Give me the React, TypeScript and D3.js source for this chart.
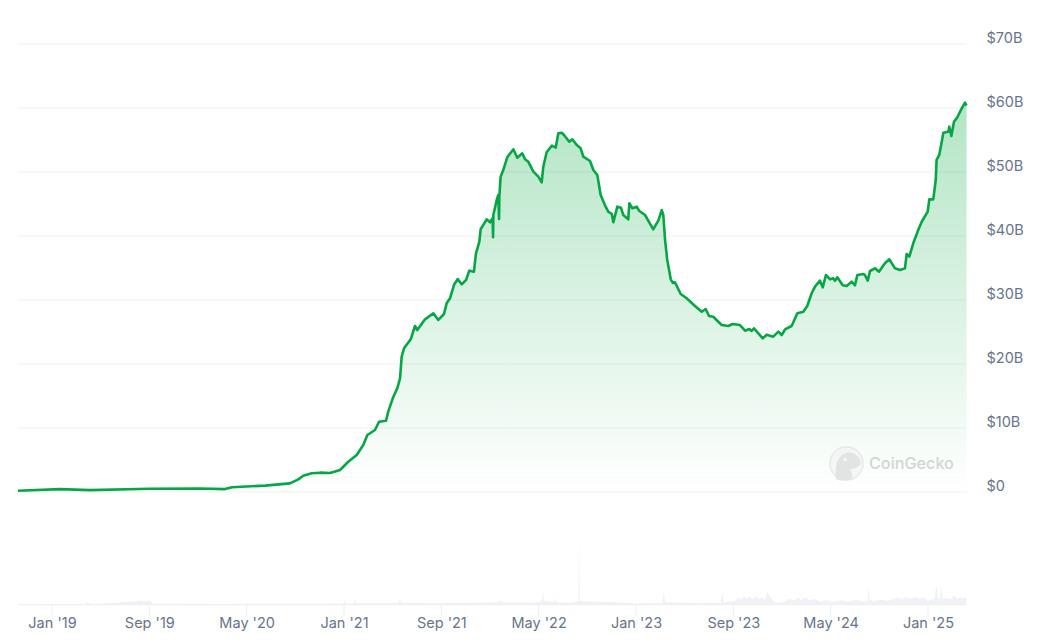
import React from "react";
import * as d3 from "d3";

// Market cap: offset in years since Jan 2019, value in $B
const capYears = [
  -0.233, 0.055, 0.26, 0.671, 1.014, 1.185, 1.233, 1.459, 1.63, 1.687, 1.721, 1.779, 1.836, 1.904, 1.973,
  2.029, 2.087, 2.132, 2.16, 2.212, 2.24, 2.288, 2.303, 2.334, 2.365, 2.384, 2.395, 2.411, 2.457, 2.486,
  2.502, 2.555, 2.612, 2.646, 2.685, 2.703, 2.726, 2.753, 2.779, 2.806, 2.836, 2.858, 2.89, 2.904, 2.927,
  2.936, 2.977, 3.0, 3.018, 3.021, 3.023, 3.046, 3.057, 3.062, 3.064, 3.073, 3.091, 3.118, 3.16, 3.187,
  3.221, 3.24, 3.262, 3.297, 3.331, 3.354, 3.365, 3.388, 3.423, 3.45, 3.468, 3.491, 3.507, 3.543, 3.564,
  3.594, 3.621, 3.639, 3.685, 3.708, 3.735, 3.758, 3.792, 3.81, 3.834, 3.845, 3.872, 3.897, 3.913, 3.947,
  3.954, 3.975, 4.005, 4.021, 4.062, 4.118, 4.153, 4.176, 4.187, 4.199, 4.214, 4.238, 4.253, 4.267, 4.306,
  4.347, 4.404, 4.45, 4.477, 4.5, 4.529, 4.587, 4.632, 4.662, 4.712, 4.747, 4.776, 4.792, 4.808, 4.868,
  4.895, 4.94, 4.975, 4.998, 5.021, 5.066, 5.105, 5.146, 5.173, 5.203, 5.226, 5.26, 5.279, 5.301, 5.329,
  5.351, 5.363, 5.379, 5.416, 5.443, 5.477, 5.5, 5.516, 5.557, 5.568, 5.587, 5.603, 5.637, 5.664, 5.705,
  5.735, 5.774, 5.808, 5.842, 5.854, 5.872, 5.899, 5.933, 5.957, 5.998, 6.009, 6.036, 6.053, 6.059, 6.077,
  6.094, 6.105, 6.139, 6.146, 6.16, 6.178, 6.201, 6.231, 6.253, 6.264,
];
const capValues = [
  0.2, 0.45, 0.3, 0.5, 0.55, 0.45, 0.75, 1.0, 1.35, 1.98, 2.55, 2.92, 3.02, 2.97, 3.44,
  4.73, 5.78, 7.34, 8.91, 9.69, 10.98, 11.14, 12.55, 14.64, 16.2, 17.77, 21.14, 22.45, 23.86, 25.94,
  25.31, 26.98, 27.92, 26.88, 27.81, 29.48, 30.27, 32.34, 33.28, 32.45, 33.13, 34.58, 34.42, 37.3, 39.11,
  41.05, 42.61, 42.14, 42.77, 39.8, 43.28, 45.63, 46.41, 42.66, 46.14, 49.27, 50.31, 52.3, 53.55, 52.23,
  52.92, 51.98, 51.61, 50.05, 49.27, 48.39, 50.83, 53.08, 54.11, 53.8, 56.05, 56.14, 55.78, 54.73, 55.11,
  54.22, 53.7, 52.39, 51.72, 50.31, 49.53, 46.41, 44.58, 43.8, 43.44, 42.14, 44.58, 44.42, 43.28, 42.61,
  45.11, 44.33, 44.58, 43.95, 43.28, 41.05, 42.39, 44.06, 43.28, 39.38, 36.25, 33.23, 32.66, 32.77, 30.94,
  30.27, 29.06, 28.17, 28.59, 27.5, 27.39, 26.09, 25.94, 26.25, 26.09, 25.2, 25.47, 25.16, 25.58, 24.02,
  24.58, 24.27, 25.05, 24.53, 25.42, 25.94, 27.92, 28.17, 29.06, 31.05, 32.1, 33.02, 31.98, 33.91, 33.23,
  33.39, 33.02, 33.55, 32.3, 32.19, 32.86, 32.3, 33.91, 34.06, 33.91, 33.02, 34.53, 34.95, 34.42, 35.73,
  36.36, 34.95, 34.69, 34.95, 37.19, 36.77, 38.86, 40.94, 42.23, 43.8, 45.73, 45.73, 48.75, 51.88, 52.66,
  54.73, 56.14, 56.3, 57.08, 55.63, 57.86, 58.55, 59.95, 60.83, 60.39,
];

// Volume: offset in years since Jan 2019, value in $B
const volYears = [
  -0.233, 0.1, 0.23, 0.24, 0.26, 0.28, 0.45, 0.47, 0.55, 0.6, 0.64, 0.67, 0.69, 1.2, 1.9, 2.0, 2.007, 2.015, 2.07, 2.075, 2.085, 2.37,
  2.384, 2.4, 2.6, 2.9, 3.06, 3.07, 3.09, 3.25, 3.3, 3.355, 3.363, 3.371, 3.44, 3.445, 3.455, 3.55, 3.605, 3.61, 3.615,
  3.7, 3.85, 4.0, 4.18, 4.19, 4.2, 4.4, 4.58, 4.589, 4.6, 4.68, 4.7, 4.72, 4.74, 4.76, 4.78, 4.8, 4.82, 4.84, 4.86, 4.88, 4.9, 4.925, 4.94, 4.97,
  5.02, 5.05, 5.08, 5.11, 5.13, 5.16, 5.19, 5.22, 5.26, 5.3, 5.35, 5.4, 5.45, 5.5, 5.55, 5.585, 5.593, 5.6, 5.64, 5.68, 5.72,
  5.76, 5.79, 5.82, 5.85, 5.88, 5.91, 5.94, 5.97, 6.0, 6.02, 6.045, 6.057, 6.068, 6.08, 6.09, 6.1, 6.13, 6.155, 6.18, 6.2, 6.22, 6.245, 6.264,
];
const volValues = [
  0.2, 0.3, 0.4, 1.2, 0.6, 0.5, 0.8, 1.4, 1.6, 2.0, 1.7, 2.2, 0.5, 0.4, 0.6, 0.6, 2.6, 0.6, 0.6, 3.4, 0.8, 0.8,
  2.6, 1.0, 0.9, 1.0, 1.2, 2.2, 1.2, 1.2, 1.0, 1.6, 6.5, 2.0, 1.3, 3.4, 1.4, 1.0, 2.0, 31, 2.0,
  1.6, 1.3, 0.6, 1.0, 6.5, 1.2, 0.9, 1.0, 6.0, 1.2, 1.8, 3.4, 2.6, 4.4, 3.0, 4.0, 2.8, 4.2, 3.0, 3.8, 2.4, 6.5, 3.0, 1.6, 1.0,
  1.6, 3.0, 2.0, 3.6, 2.2, 3.8, 2.0, 3.0, 1.6, 2.2, 1.4, 2.2, 1.6, 2.4, 1.8, 2.0, 9.5, 2.2, 1.8, 2.6, 1.8,
  2.8, 3.8, 2.6, 4.0, 2.8, 4.0, 3.0, 3.6, 1.8, 2.6, 3.2, 10, 3.2, 3.2, 9, 3.0, 3.4, 2.8, 4.6, 3.0, 3.8, 3.2, 3.6,
];

const tickOffsets = [0, 2 / 3, 4 / 3, 2, 8 / 3, 10 / 3, 4, 14 / 3, 16 / 3, 6];
const tickLabels = ["Jan '19", "Sep '19", "May '20", "Jan '21", "Sep '21", "May '22", "Jan '23", "Sep '23", "May '24", "Jan '25"];
const gridValues = [0, 10, 20, 30, 40, 50, 60, 70];
const gridLabels = ["$0", "$10B", "$20B", "$30B", "$40B", "$50B", "$60B", "$70B"];

const WIDTH = 1037;
const HEIGHT = 642;
const FONT = "Inter, 'Noto Sans', sans-serif";

const x = d3.scaleLinear().domain([0, 6]).range([52, 928]);
const y = d3.scaleLinear().domain([0, 70]).range([492, 44]);
const yVol = d3.scaleLinear().domain([0, 31]).range([604.7, 543]);

const capIdx = d3.range(capYears.length);
const volIdx = d3.range(volYears.length).sort((a, b) => volYears[a] - volYears[b]);

const linePath = d3
  .line<number>()
  .x((i) => x(capYears[i]))
  .y((i) => y(capValues[i]))(capIdx) as string;
const areaPath = d3
  .area<number>()
  .x((i) => x(capYears[i]))
  .y0(y(0))
  .y1((i) => y(capValues[i]))(capIdx) as string;
const volPath = d3
  .area<number>()
  .x((i) => x(volYears[i]))
  .y0(yVol(0))
  .y1((i) => yVol(volValues[i]))(volIdx) as string;

export default function App() {
  return (
    <svg
      width={WIDTH}
      height={HEIGHT}
      viewBox={`0 0 ${WIDTH} ${HEIGHT}`}
      style={{ position: "absolute", left: 0, top: 0, background: "#fff", fontFamily: FONT }}
    >
      <defs>
        <linearGradient id="capFill" gradientUnits="userSpaceOnUse" x1="0" x2="0" y1={y(61)} y2={y(0)}>
          <stop offset="0" stopColor="#00a83e" stopOpacity={0.3} />
          <stop offset="1" stopColor="#00a83e" stopOpacity={0} />
        </linearGradient>
      </defs>

      <path d={areaPath} fill="url(#capFill)" />
      {gridValues.map((v, i) => (
        <g key={v}>
          <line x1={18} x2={967} y1={y(v)} y2={y(v)} stroke="#000" strokeOpacity={0.06} strokeWidth={1} />
          <text x={986.5} y={y(v) - 1.5} fontSize={14.5} fill="#677489">
            {gridLabels[i]}
          </text>
        </g>
      ))}
      <path d={linePath} fill="none" stroke="#06a645" strokeWidth={2.6} strokeLinejoin="round" />

      <g opacity={0.8}>
        <circle cx={846.5} cy={463.5} r={16.5} fill="#f4f5f4" stroke="#e3e5e4" strokeWidth={1.5} />
        <path
          d="M836 479 C835 468 836 456 846 453 C853 451 859 456 861 462 C860 468 853 469 850 469 C852 473 853 476 852 479 C847 481 840 481 836 479 Z"
          fill="#dcdedd"
        />
        <circle cx={845} cy={459.5} r={1.8} fill="#f4f5f4" />
        <text x={869} y={469} fontSize={16.2} fontWeight={500} fill="#c9cbcc">
          CoinGecko
        </text>
      </g>

      <path d={volPath} fill="#f0f2f7" />
      <line x1={18} x2={967} y1={yVol(0)} y2={yVol(0)} stroke="#eceef2" strokeWidth={1} />
      {tickOffsets.map((t, i) => (
        <g key={tickLabels[i]}>
          <line x1={x(t)} x2={x(t)} y1={yVol(0)} y2={616} stroke="#eceef2" strokeWidth={1} />
          <text x={x(t) + 0.5} y={628} fontSize={14.5} textAnchor="middle" fill="#677489">
            {tickLabels[i]}
          </text>
        </g>
      ))}
    </svg>
  );
}
